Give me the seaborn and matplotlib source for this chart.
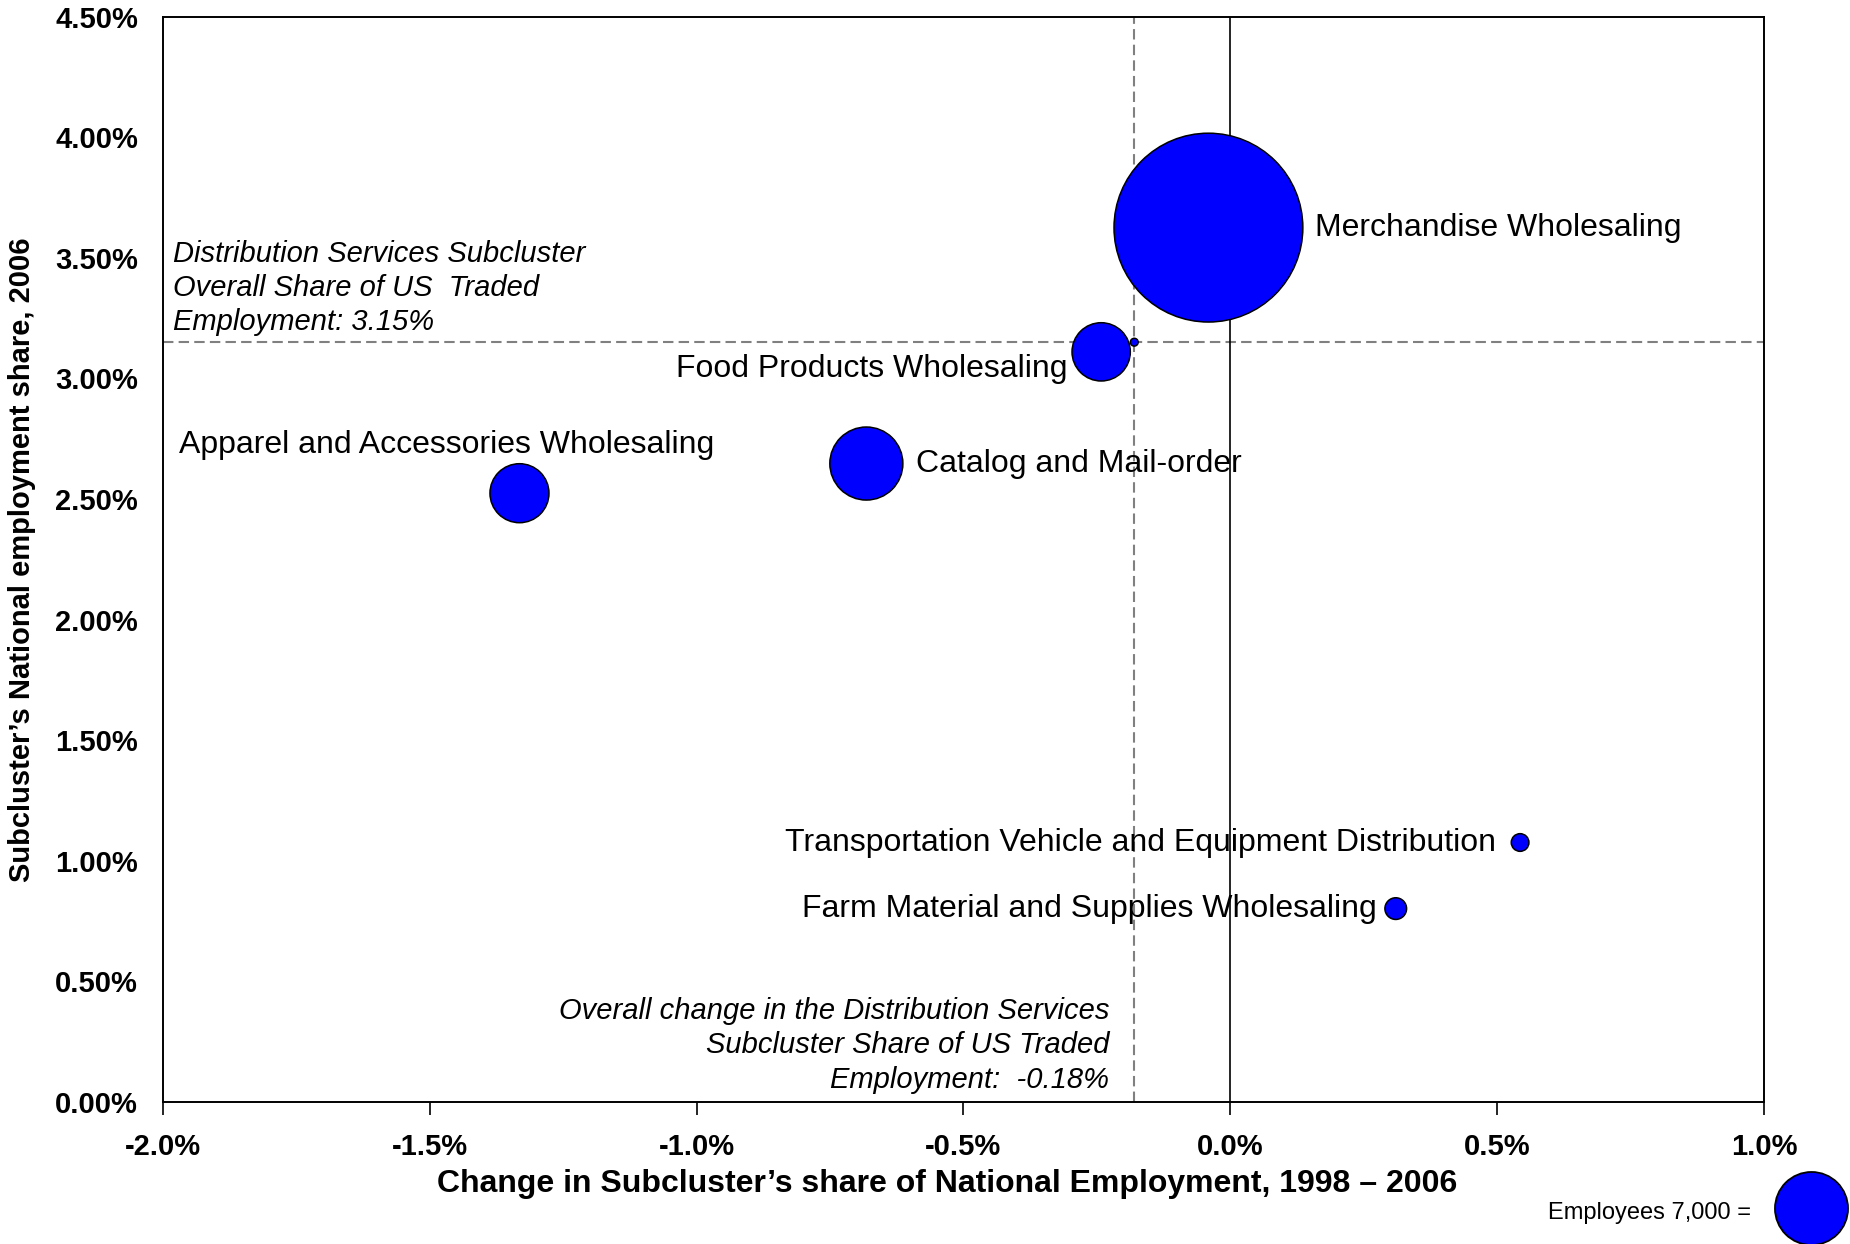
import pandas as pd
import numpy as np
import matplotlib
matplotlib.use("Agg")
import matplotlib.pyplot as plt
import seaborn as sns
from matplotlib.ticker import FuncFormatter, MultipleLocator

# subcluster data: change in share 1998-2006 (%), share 2006 (%), employees
names = ["Merchandise Wholesaling", "Food Products Wholesaling",
         "Catalog and Mail-order", "Apparel and Accessories Wholesaling",
         "Transportation Vehicle and Equipment Distribution",
         "Farm Material and Supplies Wholesaling", ""]
change = [-0.041, -0.242, -0.682, -1.332, 0.543, 0.310, -0.18]
share = [3.625, 3.11, 2.647, 2.524, 1.076, 0.802, 3.15]
employees = [46800, 4460, 7000, 4570, 410, 617, 80]

overall_change = -0.18
overall_share = 3.15
legend_employees = 7000

# label offsets in points (dx, dy, ha)
label_pos = [(77, 0, "left"), (-24, -12, "right"), (36, 0, "left"),
             (-245, 35, "left"), (-17, 0, "right"), (-14, 0, "right"),
             (0, 0, "left")]

df = pd.DataFrame({"name": names, "change": change, "share": share,
                   "employees": employees})

sns.set_style("white")
plt.rcParams['font.family'] = ['Liberation Sans', 'DejaVu Sans']
plt.rcParams['text.color'] = 'black'
plt.rcParams['axes.labelcolor'] = 'black'
plt.rcParams['xtick.color'] = 'black'
plt.rcParams['ytick.color'] = 'black'

fig = plt.figure(figsize=(18.5, 12.44), dpi=100)
ax = fig.add_axes([0.0881, 0.1141, 0.8654, 0.8726])

k = 0.395  # points^2 per employee
emin, emax = min(employees), max(employees)
sns.scatterplot(data=df, x="change", y="share", size="employees",
                sizes=(k * emin, k * emax), size_norm=(emin, emax),
                color="#0000FF", edgecolor="black", linewidth=1.1,
                alpha=1, legend=False, ax=ax, zorder=3)

dash = (0, (5, 2.5))
ax.axvline(overall_change, color="#808080", ls=dash, lw=1.5, zorder=2)
ax.axhline(overall_share, color="#808080", ls=dash, lw=1.5, zorder=2)
ax.axvline(0, color="black", lw=1.2, zorder=2)

for (n, x, y), (dx, dy, ha) in zip(zip(names, change, share), label_pos):
    if n:
        ax.annotate(n, (x, y), xytext=(dx, dy), textcoords="offset points",
                    ha=ha, va="center", fontsize=23, zorder=4)

ax.text(-1.982, 3.175,
        "Distribution Services Subcluster\nOverall Share of US  Traded\nEmployment: 3.15%",
        style="italic", fontsize=21, ha="left", va="bottom", linespacing=1.28)
ax.text(-0.227, 0.035,
        "Overall change in the Distribution Services\nSubcluster Share of US Traded\nEmployment:  -0.18%",
        style="italic", fontsize=21, ha="right", va="bottom", linespacing=1.28)

ax.set_xlim(-2.0, 1.0)
ax.set_ylim(0, 4.5)
ax.xaxis.set_major_locator(MultipleLocator(0.5))
ax.yaxis.set_major_locator(MultipleLocator(0.5))
ax.xaxis.set_major_formatter(FuncFormatter(lambda v, p: f"{v:.1f}%"))
ax.yaxis.set_major_formatter(FuncFormatter(lambda v, p: f"{v:.2f}%"))
ax.tick_params(axis="x", direction="out", length=9, width=1.2, pad=13,
               labelsize=21, bottom=True)
ax.tick_params(axis="y", length=0, pad=18, labelsize=21)
for lab in ax.get_xticklabels() + ax.get_yticklabels():
    lab.set_fontweight("bold")

for sp in ax.spines.values():
    sp.set_color("black")
    sp.set_linewidth(1.4)

ax.set_xlabel("Change in Subcluster\u2019s share of National Employment, 1998 \u2013 2006",
              fontsize=23, fontweight="bold", labelpad=6)
ax.xaxis.label.set_x(0.4895)
ax.set_ylabel("Subcluster\u2019s National employment share, 2006",
              fontsize=21, fontweight="bold", labelpad=14)

# size key
ax.scatter([1.0295], [-0.098], s=k * legend_employees, color="#0000FF",
           edgecolor="black", linewidth=1.3, transform=ax.transAxes,
           clip_on=False, zorder=5)
ax.text(0.992, -0.102, f"Employees {legend_employees:,} =", fontsize=17,
        ha="right", va="center", transform=ax.transAxes)

fig.savefig("out.png", dpi=100)
